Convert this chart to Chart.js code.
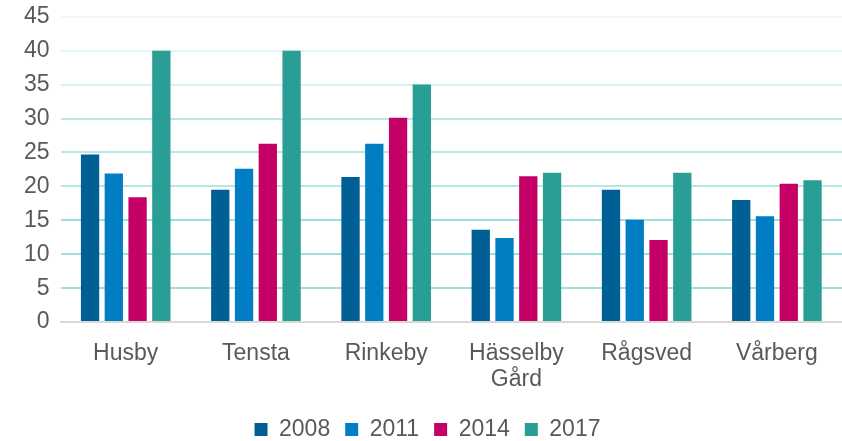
<!DOCTYPE html>
<html>
<head>
<meta charset="utf-8">
<script src="https://cdn.jsdelivr.net/npm/chart.js@4.4.1/dist/chart.umd.min.js"></script>
<style>
  html, body { margin: 0; padding: 0; background: #fff; }
  #wrap { width: 842px; height: 441px; }
</style>
</head>
<body>
<div id="wrap"><canvas id="myChart"></canvas></div>
<script>
// categories (stadsdelar)
const categories = ['Husby', 'Tensta', 'Rinkeby', ['Hässelby', 'Gård'], 'Rågsved', 'Vårberg'];

// values per year
const values2008 = [24.7, 19.5, 21.4, 13.6, 19.5, 18.0];
const values2011 = [21.9, 22.6, 26.3, 12.4, 15.1, 15.6];
const values2014 = [18.4, 26.3, 30.1, 21.5, 12.1, 20.4];
const values2017 = [40, 40, 35, 22, 22, 20.9];

const years = ['2008', '2011', '2014', '2017'];
const colors = ['#005f94', '#007dc3', '#c50066', '#289e94'];

const textColor = '#595959';
const fontFamily = "'Liberation Sans', Arial, sans-serif";

const ctx = document.getElementById('myChart');
const myChart = new Chart(ctx, {
    type: 'bar',
    data: {
        labels: categories,
        datasets: [values2008, values2011, values2014, values2017].map((vals, i) => ({
            label: years[i],
            data: vals,
            backgroundColor: colors[i],
            borderWidth: 0,
            categoryPercentage: 0.73,
            barPercentage: 0.77
        }))
    },
    options: {
        responsive: true,
        maintainAspectRatio: false,
        animation: false,
        layout: {
            padding: { top: 0, left: 13, right: 0, bottom: -10 }
        },
        scales: {
            y: {
                min: 0,
                max: 45,
                ticks: {
                    stepSize: 5,
                    autoSkip: false,
                    color: textColor,
                    padding: 11,
                    // liten lineHeight så att diagrammet börjar högre upp
                    font: { family: fontFamily, size: 23, lineHeight: 0.5 }
                },
                border: { display: false },
                grid: {
                    drawTicks: false,
                    lineWidth: 2,
                    // linjerna blir ljusare mot toppen
                    color: c => {
                        const v = c.tick ? c.tick.value : 0;
                        if (v === 0) return 'rgba(0,0,0,0)';
                        if (v === 45) return 'rgba(150, 222, 216, 0.18)';
                        if (v === 40) return 'rgba(150, 222, 216, 0.28)';
                        if (v === 35) return 'rgba(150, 222, 216, 0.4)';
                        return 'rgba(130, 218, 212, ' + (v <= 15 ? 0.8 : 0.6) + ')';
                    }
                }
            },
            x: {
                ticks: {
                    color: textColor,
                    padding: 10,
                    font: { family: fontFamily, size: 23, lineHeight: 1.15 },
                    maxRotation: 0,
                    autoSkip: false
                },
                border: { display: true, color: '#d9d9d9', width: 2 },
                grid: { display: false }
            }
        },
        plugins: {
            legend: {
                position: 'bottom',
                labels: {
                    color: textColor,
                    boxWidth: 13,
                    boxHeight: 13,
                    padding: 15,
                    font: { family: fontFamily, size: 23 }
                }
            },
            tooltip: { enabled: false }
        }
    }
});
</script>
</body>
</html>
